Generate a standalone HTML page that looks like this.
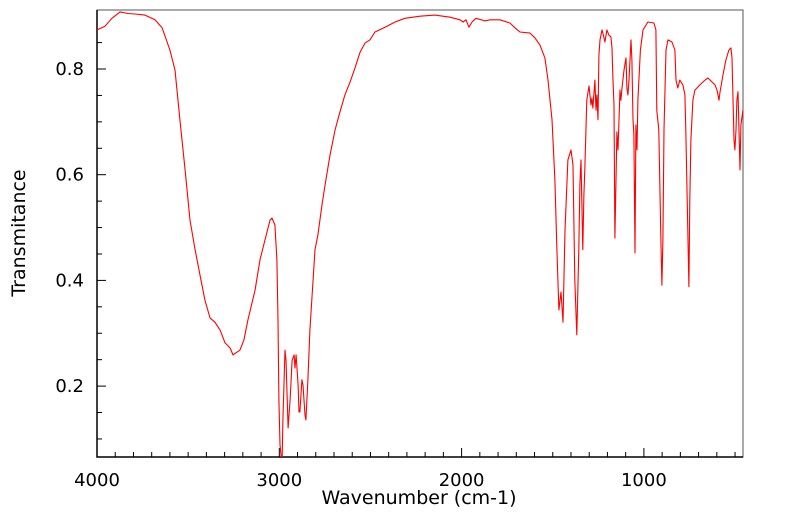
<!DOCTYPE html>
<html><head><meta charset="utf-8"><style>
body{margin:0;background:#fff}
svg text{font-family:"DejaVu Sans","Liberation Sans",sans-serif;}
</style></head><body>
<svg id="chart" width="799" height="516" xmlns="http://www.w3.org/2000/svg">
<defs><clipPath id="clip"><rect x="97" y="10" width="646" height="447"/></clipPath></defs>
<g id="grid"></g>
<path id="line" fill="none" stroke="#ff0000" stroke-width="1.1" stroke-linejoin="round" clip-path="url(#clip)"/>
<text x="419" y="504" font-size="19" text-anchor="middle">Wavenumber (cm-1)</text>
<text transform="translate(25,233) rotate(-90)" font-size="19" text-anchor="middle">Transmitance</text>
</svg>
<script>
const wavenumbers=[4000,3956,3918,3874,3830,3792,3737,3682,3643,3600,3572,3545,3517,3490,3462,3435,3408,3380,3353,3325,3298,3270,3254,3238,3216,3194,3172,3133,3106,3079,3051,3040,3024,3013,3007,3002,2996,2985,2980,2969,2963,2952,2941,2930,2919,2914,2908,2897,2892,2887,2876,2870,2859,2854,2843,2832,2804,2788,2766,2749,2722,2694,2667,2640,2612,2585,2557,2530,2503,2475,2420,2365,2311,2228,2146,2064,2009,1992,1976,1960,1943,1921,1872,1844,1790,1735,1707,1680,1625,1598,1570,1543,1526,1504,1488,1477,1466,1455,1444,1433,1417,1400,1389,1379,1368,1357,1351,1345,1335,1329,1324,1313,1301,1290,1285,1280,1269,1263,1258,1252,1247,1241,1230,1219,1214,1203,1192,1181,1175,1170,1164,1159,1148,1142,1131,1126,1120,1109,1098,1093,1088,1082,1071,1066,1060,1055,1049,1044,1038,1033,1019,1005,978,945,934,929,918,907,901,896,890,879,868,846,830,824,814,803,786,775,770,759,753,748,742,731,720,693,665,649,610,599,588,583,566,550,534,523,517,506,501,495,490,484,473,468,457];
const transmittance=[0.874,0.881,0.896,0.908,0.905,0.904,0.902,0.893,0.878,0.836,0.798,0.704,0.609,0.514,0.458,0.410,0.363,0.329,0.321,0.306,0.282,0.272,0.259,0.263,0.268,0.287,0.325,0.382,0.439,0.476,0.514,0.518,0.505,0.439,0.325,0.174,0.089,0.05,0.136,0.268,0.249,0.121,0.174,0.249,0.259,0.234,0.259,0.202,0.151,0.151,0.212,0.202,0.145,0.136,0.212,0.306,0.458,0.486,0.543,0.581,0.637,0.685,0.719,0.751,0.775,0.802,0.832,0.849,0.855,0.870,0.879,0.889,0.896,0.900,0.902,0.898,0.893,0.889,0.893,0.879,0.889,0.896,0.891,0.893,0.893,0.887,0.878,0.870,0.868,0.859,0.845,0.821,0.779,0.704,0.590,0.458,0.344,0.378,0.321,0.495,0.628,0.647,0.618,0.401,0.297,0.458,0.581,0.628,0.458,0.562,0.609,0.741,0.768,0.732,0.745,0.726,0.779,0.722,0.751,0.704,0.826,0.855,0.874,0.859,0.851,0.874,0.864,0.861,0.840,0.783,0.732,0.480,0.681,0.647,0.760,0.741,0.764,0.798,0.821,0.764,0.751,0.779,0.855,0.817,0.704,0.675,0.452,0.694,0.647,0.741,0.836,0.874,0.889,0.887,0.874,0.722,0.685,0.476,0.391,0.476,0.685,0.836,0.855,0.851,0.836,0.779,0.764,0.779,0.770,0.751,0.685,0.495,0.388,0.552,0.666,0.741,0.760,0.770,0.779,0.783,0.770,0.760,0.741,0.755,0.789,0.817,0.836,0.840,0.821,0.666,0.647,0.685,0.741,0.757,0.609,0.694,0.722];
const xTickLabels=[4000,3000,2000,1000];
const yTickLabels=[0.2,0.4,0.6,0.8];
const L=97,R=743,T=10,B=457;
const X=w=>97+(4000-w)*0.1823;
const Y=t=>69+(0.8-t)*528.5;
const ns='http://www.w3.org/2000/svg';
const g=document.getElementById('grid');
function mk(tag,attrs){const e=document.createElementNS(ns,tag);for(const k in attrs)e.setAttribute(k,attrs[k]);g.appendChild(e);return e;}
let f=mk('rect',{x:L,y:T,width:R-L,height:B-T,fill:'none',stroke:'#555','stroke-width':1});


let ax=mk('path',{d:`M${L},${T}V${B}H${R}`,fill:'none',stroke:'#000','stroke-width':1.5});


for(let w=4000;w>=460;w-=100){const x=X(w);const major=w%1000===0;
 let t=mk('line',{x1:x,x2:x,y1:B,y2:B-(major?9:5),stroke:'#000','stroke-width':1});
 
 }
for(let v=0.1;v<=0.9;v+=0.05){const y=Y(v);if(y<T||y>B)continue;const major=Math.abs(v*10-Math.round(v*10))<0.01&&Math.round(v*10)%2===0;
 let t=mk('line',{x1:L,x2:L+(major?9:5),y1:y,y2:y,stroke:'#000','stroke-width':1});
 
 }
xTickLabels.forEach(v=>{let t=mk('text',{x:X(v),y:486,'font-size':18,'text-anchor':'middle'});t.textContent=v;
 
 });
yTickLabels.forEach(v=>{let t=mk('text',{x:L-13,y:Y(v)+6,'font-size':18,'text-anchor':'end'});t.textContent=v.toFixed(1);
 
 });
document.getElementById('line').setAttribute('d',wavenumbers.map((w,i)=>(i?'L':'M')+X(w).toFixed(1)+','+Y(transmittance[i]).toFixed(1)).join(''));
</script>
</body></html>
